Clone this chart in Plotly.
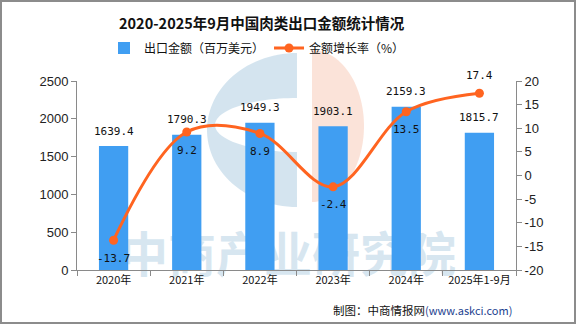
import numpy as np
import plotly.graph_objects as go

# ---- data ----
categories = ["2020年", "2021年", "2022年", "2023年", "2024年", "2025年1-9月"]
export_value = [1639.4, 1790.3, 1949.3, 1903.1, 2159.3, 1815.7]   # 百万美元
growth_rate = [-13.7, 9.2, 8.9, -2.4, 13.5, 17.4]                 # %
left_ticks = [0, 500, 1000, 1500, 2000, 2500]
right_ticks = [-20, -15, -10, -5, 0, 5, 10, 15, 20]
right_tick_text = ["-20", "-15", "-10", "-5", "0", "5", "10", "15", "20"]
growth_label_side = [-1, -1, -1, -1, -1, 1]   # below / above the point

# ---- geometry of the canvas ----
W, H = 576, 324
ML, MR, MT, MB = 77, 60, 81, 54
PW, PH = W - ML - MR, H - MT - MB


def px_x(p):
    return (p - ML) / PW


def px_y(p):
    return (H - MB - p) / PH


BAR_COLOR = "#409EF2"
LINE_COLOR = "#FF6420"
AXIS_COLOR = "#8a8a8a"
CJK = "Noto Sans CJK SC"

fig = go.Figure()

fig.add_trace(go.Bar(
    x=categories, y=export_value, name="出口金额（百万美元）",
    marker=dict(color=BAR_COLOR, line=dict(width=0)),
    yaxis="y", hoverinfo="skip",
))

fig.add_trace(go.Scatter(
    x=categories, y=growth_rate, name="金额增长率（%）",
    mode="lines+markers", yaxis="y2",
    line=dict(color=LINE_COLOR, width=3, shape="spline", smoothing=1.0),
    marker=dict(color=LINE_COLOR, size=9),
    hoverinfo="skip",
))

annotations = []
# value labels above the bars
for c, v in zip(categories, export_value):
    annotations.append(dict(
        x=c, y=v, xref="x", yref="y", text=f"{v:.1f}", showarrow=False,
        yshift=15, font=dict(family="DejaVu Sans Mono", size=11, color="#111"),
    ))
# growth labels next to the line points
for c, v, s in zip(categories, growth_rate, growth_label_side):
    annotations.append(dict(
        x=c, y=v, xref="x", yref="y2", text=f"{v:.1f}", showarrow=False,
        yshift=18 * s, font=dict(family="DejaVu Sans Mono", size=11, color="#111"),
    ))

# title
annotations.append(dict(
    x=px_x(262), y=px_y(22), xref="paper", yref="paper", showarrow=False,
    text="<b>2020-2025年9月中国肉类出口金额统计情况</b>",
    font=dict(family=CJK, size=14.5, color="#111"),
    xanchor="center", yanchor="middle",
))
# source note
annotations.append(dict(
    x=px_x(514), y=px_y(310), xref="paper", yref="paper", showarrow=False,
    text="制图：中商情报网<span style='color:#1d3f8f;font-size:11px'>(www.askci.com)</span>",
    font=dict(family=CJK, size=11.5, color="#111"),
    xanchor="right", yanchor="middle",
))


# ---- background watermark (logo + brand text) ----
def arc(cx, cy, rx, ry, a0, a1, n=60):
    t = np.radians(np.linspace(a0, a1, n))
    return [(cx + rx * np.cos(a), cy - ry * np.sin(a)) for a in t]


def to_path(points):
    parts = [f"{px_x(x):.4f},{px_y(y):.4f}" for x, y in points]
    return "M" + " L".join(parts) + " Z"


c_shape = arc(297, 130, 90, 77, 90, 270) + arc(297, 125, 82, 27, 270, 90)
half_disc = arc(312, 126, 52, 76, 90, -90)

shapes = [
    dict(type="path", path=to_path(c_shape), xref="paper", yref="paper",
         fillcolor="rgba(205,223,236,0.85)", line=dict(width=0), layer="below"),
    dict(type="path", path=to_path(half_disc), xref="paper", yref="paper",
         fillcolor="rgba(250,222,210,0.85)", line=dict(width=0), layer="below"),
    dict(type="rect", xref="paper", yref="paper",
         x0=px_x(100), x1=px_x(476), y0=px_y(290), y1=px_y(228),
         line=dict(width=0), fillcolor="rgba(0,0,0,0)", layer="below",
         label=dict(text="中商产业研究院", textposition="middle center",
                    font=dict(family=CJK, size=48, color="rgba(208,226,238,0.85)",
                              weight="bold"))),
    # outer frame
    dict(type="rect", xref="paper", yref="paper",
         x0=px_x(1), x1=px_x(575), y0=px_y(323), y1=px_y(1),
         line=dict(color="#8c8c8c", width=2), fillcolor="rgba(0,0,0,0)"),
]

fig.update_layout(
    width=W, height=H,
    margin=dict(l=ML, r=MR, t=MT, b=MB, autoexpand=False),
    paper_bgcolor="white", plot_bgcolor="white",
    bargap=0.6,
    showlegend=True,
    legend=dict(
        orientation="h", x=px_x(257), y=px_y(48), xanchor="center", yanchor="middle",
        font=dict(family=CJK, size=12, color="#111"),
        bgcolor="rgba(0,0,0,0)", itemwidth=30, tracegroupgap=0,
    ),
    xaxis=dict(
        type="category", showline=True, linecolor=AXIS_COLOR, linewidth=1,
        ticks="outside", tickson="boundaries", ticklen=5, tickcolor=AXIS_COLOR,
        showgrid=False, zeroline=False,
        tickfont=dict(family=CJK, size=11, color="#111"),
    ),
    yaxis=dict(
        range=[0, 2500], tickvals=left_ticks, showline=True, linecolor=AXIS_COLOR,
        ticks="outside", ticklen=5, tickcolor=AXIS_COLOR, showgrid=False,
        zeroline=False, tickfont=dict(family="Liberation Sans", size=13, color="#222"),
    ),
    yaxis2=dict(
        range=[-20, 20], tickvals=right_ticks, ticktext=right_tick_text,
        overlaying="y", side="right", showline=True, linecolor=AXIS_COLOR,
        ticks="outside", ticklen=5, tickcolor=AXIS_COLOR, showgrid=False,
        zeroline=False, tickfont=dict(family="Liberation Sans", size=13, color="#222"),
    ),
    annotations=annotations,
    shapes=shapes,
)

fig.write_html("out.html")
